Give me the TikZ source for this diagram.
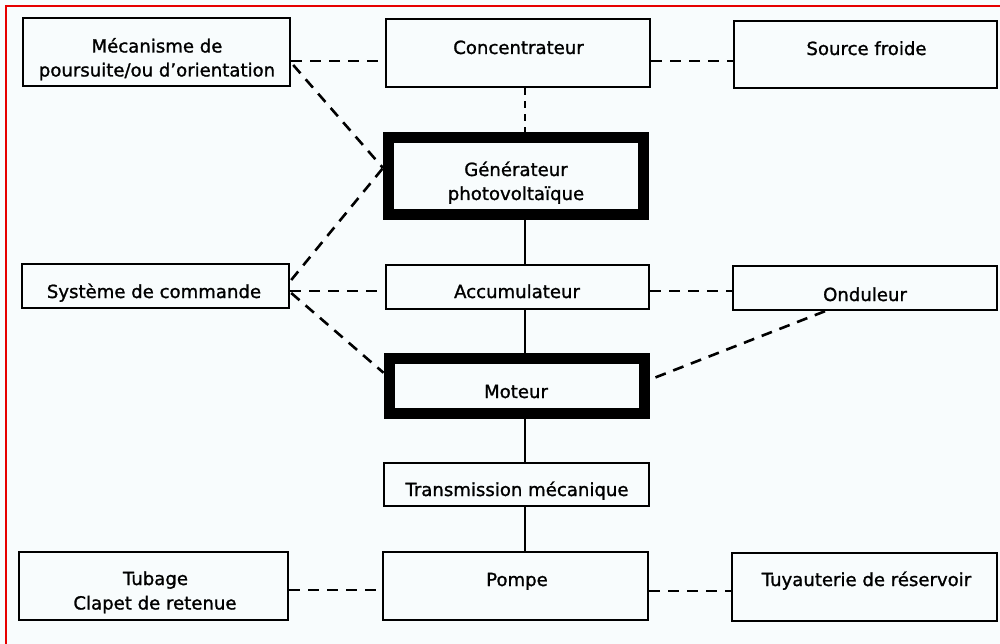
\documentclass[tikz,border=0pt]{standalone}
\usepackage{fontspec}
\setmainfont[FakeBold=1.2]{DejaVu Sans}
\usetikzlibrary{calc}
\definecolor{bgc}{RGB}{248,252,253}
\definecolor{framered}{RGB}{230,0,0}
\tikzset{
  box/.style={draw=black, line width=2.4pt, inner sep=0pt, rectangle, fill=bgc},
  bigbox/.style={draw=black, line width=11pt, inner sep=0pt, rectangle, fill=bgc},
  lbl/.style={anchor=base, inner sep=0pt, font=\fontsize{18.1}{22}\selectfont},
  dashlink/.style={line width=2.6pt, dash pattern=on 11pt off 8pt},
  shortdash/.style={line width=2.6pt, dash pattern=on 7pt off 6pt},
  solidlink/.style={line width=2.4pt},
}
\begin{document}
\begin{tikzpicture}[x=1pt,y=-1pt]
\fill[bgc] (0,0) rectangle (1000,644);
\useasboundingbox (0,0) rectangle (1000,644);
\draw[framered, line width=2pt] (5.5,644) -- (5.5,6.5) -- (1000,6.5);

% boxes
\node[box, minimum width=267pt, minimum height=68pt] (meca) at (156.5,52) {};
\node[box, minimum width=264pt, minimum height=68pt] (conc) at (518,53) {};
\node[box, minimum width=263pt, minimum height=67pt] (source) at (865.5,54.5) {};
\node[bigbox, minimum width=254.5pt, minimum height=77pt] (gen) at (515.75,176) {};
\node[box, minimum width=267pt, minimum height=44pt] (sys) at (155.5,286) {};
\node[box, minimum width=263pt, minimum height=44pt] (acc) at (517.5,287) {};
\node[box, minimum width=264pt, minimum height=44pt] (ond) at (865,288) {};
\node[bigbox, minimum width=255pt, minimum height=54.5pt] (mot) at (516.5,385.75) {};
\node[box, minimum width=265pt, minimum height=43pt] (trans) at (516.5,484.5) {};
\node[box, minimum width=269pt, minimum height=68pt] (tubage) at (153.5,586) {};
\node[box, minimum width=265pt, minimum height=68pt] (pompe) at (515.5,586) {};
\node[box, minimum width=265pt, minimum height=68pt] (tuyau) at (864.5,587) {};

% labels
\node[lbl] (t-meca1) at (157,52.5) {Mécanisme de};
\node[lbl] (t-meca2) at (157,76.5) {poursuite/ou d’orientation};
\node[lbl] (t-conc) at (518.5,54) {Concentrateur};
\node[lbl] (t-source) at (866.5,55) {Source froide};
\node[lbl] (t-gen1) at (516,176) {Générateur};
\node[lbl] (t-gen2) at (516,200) {photovoltaïque};
\node[lbl] (t-sys) at (154,298) {Système de commande};
\node[lbl] (t-acc) at (517,298) {Accumulateur};
\node[lbl] (t-ond) at (865,301) {Onduleur};
\node[lbl] (t-mot) at (516,398) {Moteur};
\node[lbl] (t-trans) at (517,496) {Transmission mécanique};
\node[lbl] (t-tub1) at (155.5,585) {Tubage};
\node[lbl] (t-tub2) at (155,609.5) {Clapet de retenue};
\node[lbl] (t-pompe) at (517,586) {Pompe};
\node[lbl] (t-tuyau) at (866.5,586) {Tuyauterie de réservoir};

% spine position
\coordinate (spine) at (525,0);

% dashed links
\draw[dashlink] ([yshift=-9pt]meca.east) -- ([yshift=-8pt]conc.west);
\draw[dashlink] ([yshift=-8pt]conc.east) -- ([yshift=-6.5pt]source.west);
\draw[shortdash] (conc.south -| spine) -- (gen.north -| spine);
\draw[dashlink] ([xshift=2pt,yshift=-13pt]meca.east) -- ([yshift=8pt]gen.west);
\draw[dashlink] ([xshift=1pt,yshift=6pt]sys.east) -- ([yshift=8pt]gen.west);
\draw[dashlink] ([yshift=-5pt]sys.east) -- ([yshift=-4pt]acc.west);
\draw[dashlink] ([xshift=1pt,yshift=-7pt]sys.east) -- ([yshift=13pt]mot.west);
\draw[dashlink] ([yshift=-4pt]acc.east) -- ([yshift=-3pt]ond.west);
\draw[dashlink] ([xshift=-40pt]ond.south) -- ([yshift=6pt]mot.east);
\draw[dashlink] ([yshift=-4pt]tubage.east) -- ([yshift=-4pt]pompe.west);
\draw[dashlink] ([yshift=-5pt]pompe.east) -- ([yshift=-4pt]tuyau.west);

% solid spine
\draw[solidlink] (gen.south -| spine) -- (acc.north -| spine);
\draw[solidlink] (acc.south -| spine) -- (mot.north -| spine);
\draw[solidlink] (mot.south -| spine) -- (trans.north -| spine);
\draw[solidlink] (trans.south -| spine) -- (pompe.north -| spine);
\end{tikzpicture}
\end{document}
